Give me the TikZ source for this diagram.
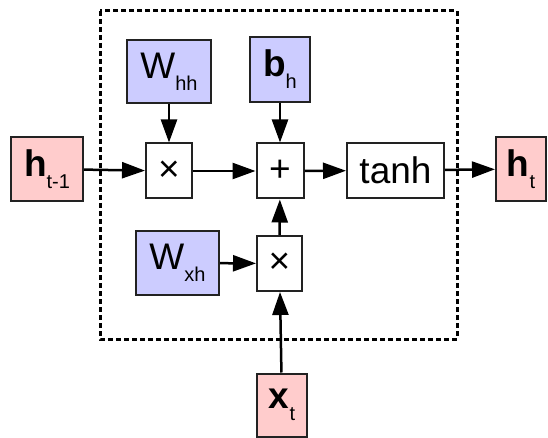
\documentclass[tikz,border=0pt]{standalone}
\usepackage{fontspec}
\setmainfont{Liberation Sans}
\usetikzlibrary{arrows.meta}
\definecolor{inpink}{HTML}{FFCCCC}
\definecolor{wblue}{HTML}{CCCCFF}
\definecolor{edge}{HTML}{222222}
% lowered, smaller subscript
\newcommand\lowsub[1]{\raisebox{-12pt}{\fontsize{20}{20}\selectfont #1}}
\begin{document}
\begin{tikzpicture}[x=1pt,y=-1pt,
  box/.style={draw=edge,line width=2pt,inner sep=0pt,font=\fontsize{37}{37}\selectfont},
  iobox/.style={box,fill=inpink},
  wbox/.style={box,fill=wblue},
  opbox/.style={box,fill=white},
  arr/.style={line width=2.5pt,-{Triangle[length=23pt,width=16pt]}},
  frame/.style={line width=3pt,dash pattern=on 5pt off 3pt}]
\useasboundingbox (0,0) rectangle (548,438);
% dashed frame around the cell
\draw[frame] (100,11) rectangle (457,339);
% operation boxes
\node[opbox,minimum width=46pt,minimum height=55pt] (mul1) at (169,171) {×};
\node[opbox,minimum width=47pt,minimum height=55pt] (add) at (280,171) {+};
\node[opbox,minimum width=97pt,minimum height=55pt] (tanh) at (395.5,170.5) {tanh};
\node[opbox,minimum width=45pt,minimum height=55pt] (mul2) at (279.5,263.5) {×};
% weights and bias
\node[wbox,minimum width=84pt,minimum height=63pt] (whh) at (169,71.5) {W\lowsub{hh}};
\node[wbox,minimum width=60pt,minimum height=65pt] (bh) at (280,69.5) {\textbf{b}\lowsub{h}};
\node[wbox,minimum width=83pt,minimum height=64pt] (wxh) at (177.5,263) {W\lowsub{xh}};
% inputs and output
\node[iobox,minimum width=72pt,minimum height=64pt] (hprev) at (47,169) {\textbf{h}\lowsub{t-1}};
\node[iobox,minimum width=50pt,minimum height=64pt] (hout) at (521,169) {\textbf{h}\lowsub{t}};
\node[iobox,minimum width=50pt,minimum height=63pt] (xt) at (282,405) {\textbf{x}\lowsub{t}};
% connectors
\draw[arr] (hprev) -- (mul1);
\draw[arr] (whh) -- (mul1);
\draw[arr] (mul1) -- (add);
\draw[arr] (bh) -- (add);
\draw[arr] (add) -- (tanh);
\draw[arr] (tanh) -- (hout);
\draw[arr] (mul2) -- (add);
\draw[arr] (wxh) -- (mul2);
\draw[arr] (xt) -- (mul2);
\end{tikzpicture}
\end{document}
